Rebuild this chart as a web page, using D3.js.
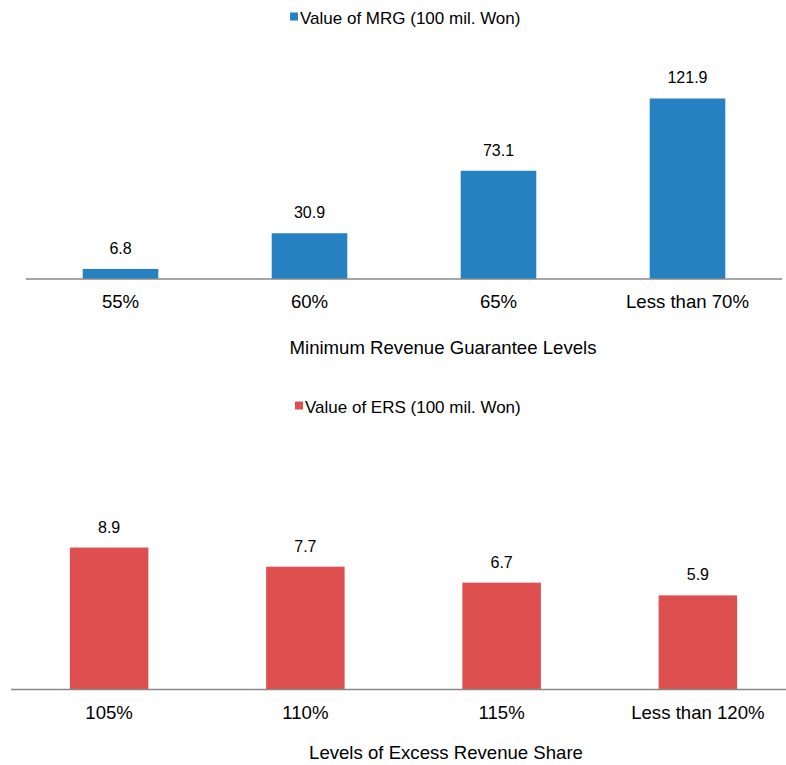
<!DOCTYPE html>
<html>
<head>
<meta charset="utf-8">
<script src="https://cdn.jsdelivr.net/npm/d3@7"></script>
<style>
  body { margin: 0; background: #fff; }
  text { font-family: "Liberation Sans", Arial, sans-serif; fill: #000; }
</style>
</head>
<body>
<div id="chart"></div>
<script>
// Data
const mrgLevels = ['55%', '60%', '65%', 'Less than 70%'];
const mrgValues = [6.8, 30.9, 73.1, 121.9];
const ersLevels = ['105%', '110%', '115%', 'Less than 120%'];
const ersValues = [8.9, 7.7, 6.7, 5.9];

const width = 786;
const height = 765;

const svg = d3.select('#chart')
  .append('svg')
  .attr('width', width)
  .attr('height', height);

function panel(cfg) {
  const x = d3.scaleBand()
    .domain(cfg.cats)
    .range(cfg.xRange)
    .paddingInner(0.6)
    .paddingOuter(0.3);

  const y = d3.scaleLinear()
    .domain(cfg.yDomain)
    .range(cfg.yRange);

  const g = svg.append('g');

  // bars
  g.selectAll('rect.bar')
    .data(cfg.values)
    .join('rect')
    .attr('class', 'bar')
    .attr('x', (d, i) => x(cfg.cats[i]))
    .attr('y', d => y(d))
    .attr('width', x.bandwidth())
    .attr('height', d => y(0) - y(d))
    .attr('fill', cfg.color);

  // value labels
  g.selectAll('text.val')
    .data(cfg.values)
    .join('text')
    .attr('class', 'val')
    .attr('x', (d, i) => x(cfg.cats[i]) + x.bandwidth() / 2)
    .attr('y', d => y(d) - 15)
    .attr('text-anchor', 'middle')
    .attr('font-size', '16px')
    .text(d => d.toFixed(1));

  // baseline
  g.append('line')
    .attr('x1', cfg.xRange[0])
    .attr('x2', cfg.xRange[1])
    .attr('y1', y(0))
    .attr('y2', y(0))
    .attr('stroke', '#888')
    .attr('stroke-width', 1.6);

  // tick labels
  g.selectAll('text.tick')
    .data(cfg.cats)
    .join('text')
    .attr('class', 'tick')
    .attr('x', d => x(d) + x.bandwidth() / 2)
    .attr('y', y(0) + 29)
    .attr('text-anchor', 'middle')
    .attr('font-size', '18.6px')
    .text(d => d);

  // axis title
  g.append('text')
    .attr('x', cfg.titleX)
    .attr('y', cfg.titleY)
    .attr('text-anchor', 'middle')
    .attr('font-size', '18.6px')
    .text(cfg.title);

  // legend
  g.append('rect')
    .attr('x', cfg.legendX)
    .attr('y', cfg.legendY - 11.5)
    .attr('width', 8)
    .attr('height', 8)
    .attr('fill', cfg.color);
  g.append('text')
    .attr('x', cfg.legendX + 10)
    .attr('y', cfg.legendY)
    .attr('font-size', '17px')
    .text(cfg.legend);
}

panel({
  cats: mrgLevels,
  values: mrgValues,
  color: '#2681c2',
  xRange: [26, 782],
  yDomain: [0, 130],
  yRange: [279, 86.5],
  title: 'Minimum Revenue Guarantee Levels',
  titleX: 443,
  titleY: 354,
  legend: 'Value of MRG (100 mil. Won)',
  legendX: 290,
  legendY: 24
});

panel({
  cats: ersLevels,
  values: ersValues,
  color: '#de5050',
  xRange: [11, 796],
  yDomain: [0, 10],
  yRange: [689.5, 530],
  title: 'Levels of Excess Revenue Share',
  titleX: 446,
  titleY: 759,
  legend: 'Value of ERS (100 mil. Won)',
  legendX: 295,
  legendY: 413
});
</script>
</body>
</html>
